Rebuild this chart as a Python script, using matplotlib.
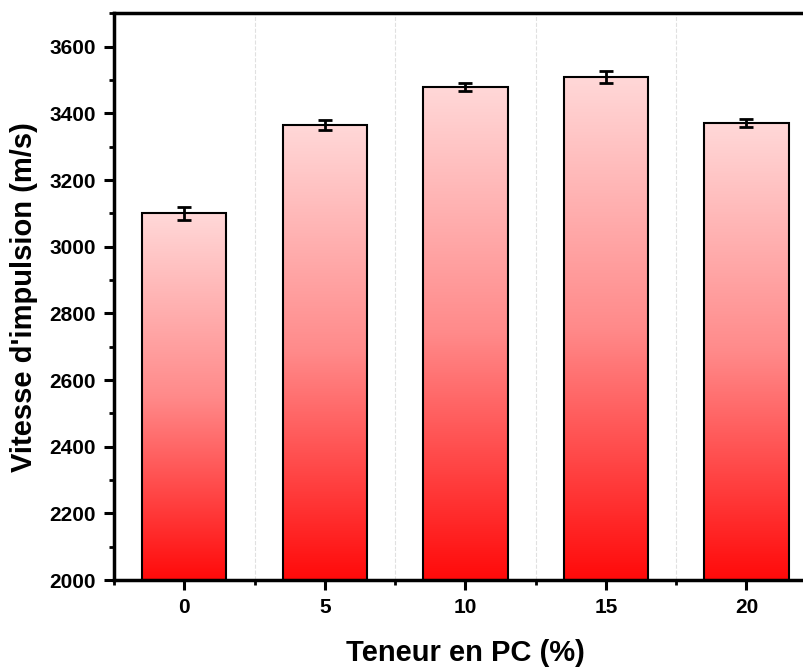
import numpy as np
import matplotlib
matplotlib.use('Agg')
import matplotlib.pyplot as plt
from matplotlib.colors import LinearSegmentedColormap
from matplotlib.ticker import MultipleLocator

# Données
teneur = [0, 5, 10, 15, 20]
vitesse = [3100, 3365, 3480, 3510, 3370]
erreur = [20, 15, 12, 18, 12]

plt.rcParams['font.family'] = ['Liberation Sans', 'DejaVu Sans']
plt.rcParams['font.weight'] = 'bold'

fig = plt.figure(figsize=(8.04, 6.70), dpi=100)
# l'axe dépasse à droite comme dans l'original (image recadrée)
ax = fig.add_axes([0.1418, 0.1343, 0.874, 0.8458])

cmap = LinearSegmentedColormap.from_list('rouge', ['#ff0a0a', '#ff8a8a', '#ffd8d8'])
grad = np.linspace(0, 1, 256).reshape(-1, 1)
largeur = 3

for x, v in zip(teneur, vitesse):
    ax.imshow(grad, cmap=cmap, origin='lower', aspect='auto',
              extent=(x - largeur / 2, x + largeur / 2, 2000, v), zorder=2)

ax.bar(teneur, vitesse, width=largeur, bottom=0, fill=False,
       edgecolor='black', linewidth=1.5, zorder=3)
ax.errorbar(teneur, vitesse, yerr=erreur, fmt='none', ecolor='black',
            elinewidth=2, capsize=5, capthick=2, zorder=4)

ax.set_xlim(-2.5, 22.5)
ax.set_ylim(2000, 3700)
ax.xaxis.set_major_locator(MultipleLocator(5))
ax.xaxis.set_minor_locator(MultipleLocator(2.5))
ax.yaxis.set_major_locator(MultipleLocator(200))
ax.yaxis.set_minor_locator(MultipleLocator(100))

ax.grid(which='minor', axis='x', color='#e0e0e0', linestyle='--', linewidth=0.8, zorder=0)
ax.set_axisbelow(True)

for s in ax.spines.values():
    s.set_linewidth(2.5)

ax.tick_params(which='major', direction='out', length=7, width=2.2, labelsize=15, pad=6)
ax.tick_params(which='minor', direction='out', length=3.5, width=2)
ax.tick_params(top=False, right=False, which='both')
for lab in ax.get_xticklabels() + ax.get_yticklabels():
    lab.set_fontweight('bold')

ax.set_xlabel('Teneur en PC (%)', fontsize=21, fontweight='bold', labelpad=16)
ax.set_ylabel("Vitesse d'impulsion (m/s)", fontsize=21, fontweight='bold', labelpad=8)

plt.savefig('out.png', dpi=100)
